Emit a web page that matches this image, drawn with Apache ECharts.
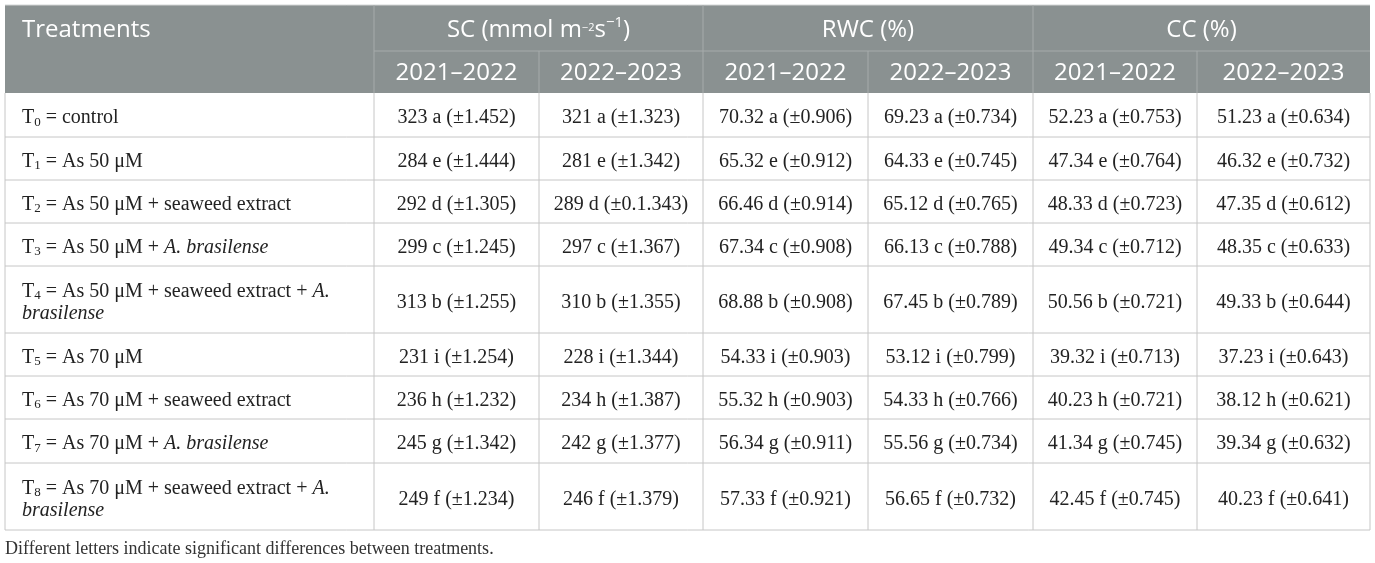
<!DOCTYPE html>
<html>
<head>
<meta charset="utf-8">
<script src="https://cdn.jsdelivr.net/npm/echarts@6/dist/echarts.min.js"></script>
<style>
html,body{margin:0;padding:0;background:#fff;}
#chart{width:1375px;height:563px;}
</style>
</head>
<body>
<div id="chart"></div>
<script>
// ---------- DATA ----------
const treatments = [
  'control',
  'As 50 μM',
  'As 50 μM + seaweed extract',
  'As 50 μM + A. brasilense',
  'As 50 μM + seaweed extract + A. brasilense',
  'As 70 μM',
  'As 70 μM + seaweed extract',
  'As 70 μM + A. brasilense',
  'As 70 μM + seaweed extract + A. brasilense'
];
const letters = ['a','e','d','c','b','i','h','g','f'];
const groupHeaders = ['SC', 'RWC (%)', 'CC (%)'];
const seasons = ['2021–2022', '2022–2023'];

const sc2122 = [323,284,292,299,313,231,236,245,249];
const sc2122se = ['1.452','1.444','1.305','1.245','1.255','1.254','1.232','1.342','1.234'];
const sc2223 = [321,281,289,297,310,228,234,242,246];
const sc2223se = ['1.323','1.342','0.1.343','1.367','1.355','1.344','1.387','1.377','1.379'];
const rwc2122 = [70.32,65.32,66.46,67.34,68.88,54.33,55.32,56.34,57.33];
const rwc2122se = ['0.906','0.912','0.914','0.908','0.908','0.903','0.903','0.911','0.921'];
const rwc2223 = [69.23,64.33,65.12,66.13,67.45,53.12,54.33,55.56,56.65];
const rwc2223se = ['0.734','0.745','0.765','0.788','0.789','0.799','0.766','0.734','0.732'];
const cc2122 = [52.23,47.34,48.33,49.34,50.56,39.32,40.23,41.34,42.45];
const cc2122se = ['0.753','0.764','0.723','0.712','0.721','0.713','0.721','0.745','0.745'];
const cc2223 = [51.23,46.32,47.35,48.35,49.33,37.23,38.12,39.34,40.23];
const cc2223se = ['0.634','0.732','0.612','0.633','0.644','0.643','0.621','0.632','0.641'];
const footnote = 'Different letters indicate significant differences between treatments.';

// ---------- LAYOUT (axis units) ----------
const colEdges = [0, 369, 534, 698, 863, 1028, 1192, 1365];
const rowEdges = [0, 46, 88, 132, 175, 218, 261, 328, 371, 414, 458, 525];

const valueCols = [
  [sc2122, sc2122se, 0], [sc2223, sc2223se, 0],
  [rwc2122, rwc2122se, 2], [rwc2223, rwc2223se, 2],
  [cc2122, cc2122se, 2], [cc2223, cc2223se, 2]
];

function treatmentRich(i) {
  let txt = treatments[i];
  let body;
  const k = txt.indexOf('A. brasilense');
  if (k >= 0) {
    const pre = txt.slice(0, k);
    if (txt.indexOf('seaweed extract + A.') >= 0) {
      body = '{t| = ' + pre + '}{i|A.}\n{i|brasilense}';
    } else {
      body = '{t| = ' + pre + '}{i|A. brasilense}';
    }
  } else {
    body = '{t| = ' + txt + '}';
  }
  return '{t|T}{s|' + i + '}' + body;
}

const cells = [];
// header
cells.push({c0:0,c1:1,r0:0,r1:1,text:'{h|Treatments}',align:'left',hdr:true,dy:2});
groupHeaders.forEach((g, gi) => {
  const t = gi === 0 ? '{h|SC (mmol m}{sup1|−2}{h|s}{sup2|−1}{h|)}' : '{h|' + g + '}';
  cells.push({c0:1+gi*2,c1:3+gi*2,r0:0,r1:1,text:t,align:'center',hdr:true,dy:2});
  seasons.forEach((s, si) => {
    cells.push({c0:1+gi*2+si,c1:2+gi*2+si,r0:1,r1:2,text:'{h|' + s + '}',align:'center',hdr:true,dy:1});
  });
});
// body
treatments.forEach((tr, i) => {
  cells.push({c0:0,c1:1,r0:2+i,r1:3+i,text:treatmentRich(i),align:'left',hdr:false,dy:3});
  valueCols.forEach((vc, j) => {
    const v = vc[2] ? vc[0][i].toFixed(vc[2]) : String(vc[0][i]);
    const t = '{t|' + v + ' ' + letters[i] + ' (±' + vc[1][i] + ')}';
    cells.push({c0:1+j,c1:2+j,r0:2+i,r1:3+i,text:t,align:'center',hdr:false,dy:3});
  });
});

const SERIF = '"Liberation Serif","Times New Roman",serif';
const SANS = '"Open Sans","Noto Sans",sans-serif';
const richBody = {
  t: {fontFamily: SERIF, fontSize: 20, lineHeight: 22, color: '#222'},
  i: {fontFamily: SERIF, fontSize: 20, lineHeight: 22, color: '#222', fontStyle: 'italic'},
  s: {fontFamily: SERIF, fontSize: 13, lineHeight: 11, color: '#222', verticalAlign: 'bottom'}
};
const richHead = {
  h: {fontFamily: SANS, fontSize: 24, lineHeight: 30, color: '#fff'},
  sup1: {fontFamily: SANS, fontSize: 11, lineHeight: 30, color: '#fff', verticalAlign: 'middle', padding: [0, 0, 4, 0]},
  sup2: {fontFamily: SANS, fontSize: 15, lineHeight: 14, color: '#fff', verticalAlign: 'top'}
};

const HEAD_BG = '#8a9191';
const HEAD_LINE = '#a6abab';
const BODY_LINE = '#c6c6c6';

function renderFrame(params, api) {
  const P = (x, y) => api.coord([x, y]);
  const children = [];
  const a = P(colEdges[0], rowEdges[0]), b = P(colEdges[7], rowEdges[2]);
  children.push({type:'rect', shape:{x:a[0], y:a[1], width:b[0]-a[0], height:b[1]-a[1]}, style:{fill:HEAD_BG}});
  function line(x1,y1,x2,y2,color){
    const p = P(x1,y1), q = P(x2,y2);
    children.push({type:'line', shape:{x1:p[0],y1:p[1],x2:q[0],y2:q[1]}, style:{stroke:color,lineWidth:1}});
  }
  // top border
  line(colEdges[0], rowEdges[0], colEdges[7], rowEdges[0], '#d3d6d6');
  // header lines
  [1,3,5].forEach(c => line(colEdges[c], rowEdges[0], colEdges[c], rowEdges[2], HEAD_LINE));
  [2,4,6].forEach(c => line(colEdges[c], rowEdges[1], colEdges[c], rowEdges[2], HEAD_LINE));
  line(colEdges[1], rowEdges[1], colEdges[7], rowEdges[1], HEAD_LINE);
  // body lines
  for (let r = 3; r < rowEdges.length; r++) line(colEdges[0], rowEdges[r], colEdges[7], rowEdges[r], BODY_LINE);
  for (let c = 0; c < colEdges.length; c++) line(colEdges[c], rowEdges[2], colEdges[c], rowEdges[rowEdges.length-1], BODY_LINE);
  return {type:'group', children};
}

function renderCell(params, api) {
  const c = cells[params.dataIndex];
  const p0 = api.coord([colEdges[c.c0], rowEdges[c.r0]]);
  const p1 = api.coord([colEdges[c.c1], rowEdges[c.r1]]);
  const x = c.align === 'left' ? p0[0] + 17 : (p0[0] + p1[0]) / 2;
  const y = (p0[1] + p1[1]) / 2 + (c.dy || 0);
  return {
    type: 'text',
    x: x, y: y,
    style: {
      text: c.text,
      rich: c.hdr ? richHead : richBody,
      align: c.align,
      verticalAlign: 'middle',
      fill: c.hdr ? '#fff' : '#222',
      fontFamily: c.hdr ? SANS : SERIF,
      fontSize: c.hdr ? 24 : 20
    }
  };
}

const chart = echarts.init(document.getElementById('chart'));
chart.setOption({
  animation: false,
  backgroundColor: '#fff',
  grid: {left: 5, top: 5, width: 1365, height: 525},
  xAxis: {type: 'value', min: 0, max: 1365, show: false},
  yAxis: {type: 'value', min: 0, max: 525, inverse: true, show: false},
  graphic: [{
    type: 'text', left: 5, top: 540,
    style: {text: footnote, font: '18px ' + SERIF, fill: '#333'}
  }],
  series: [
    {type: 'custom', clip: false, silent: true, renderItem: renderFrame, data: [[0, 0]], encode: {x: 0, y: 1}, z: 1},
    {type: 'custom', clip: false, silent: true, renderItem: renderCell,
      data: cells.map(c => [(colEdges[c.c0] + colEdges[c.c1]) / 2, (rowEdges[c.r0] + rowEdges[c.r1]) / 2]),
      encode: {x: 0, y: 1}, z: 2}
  ]
});
</script>
</body>
</html>
